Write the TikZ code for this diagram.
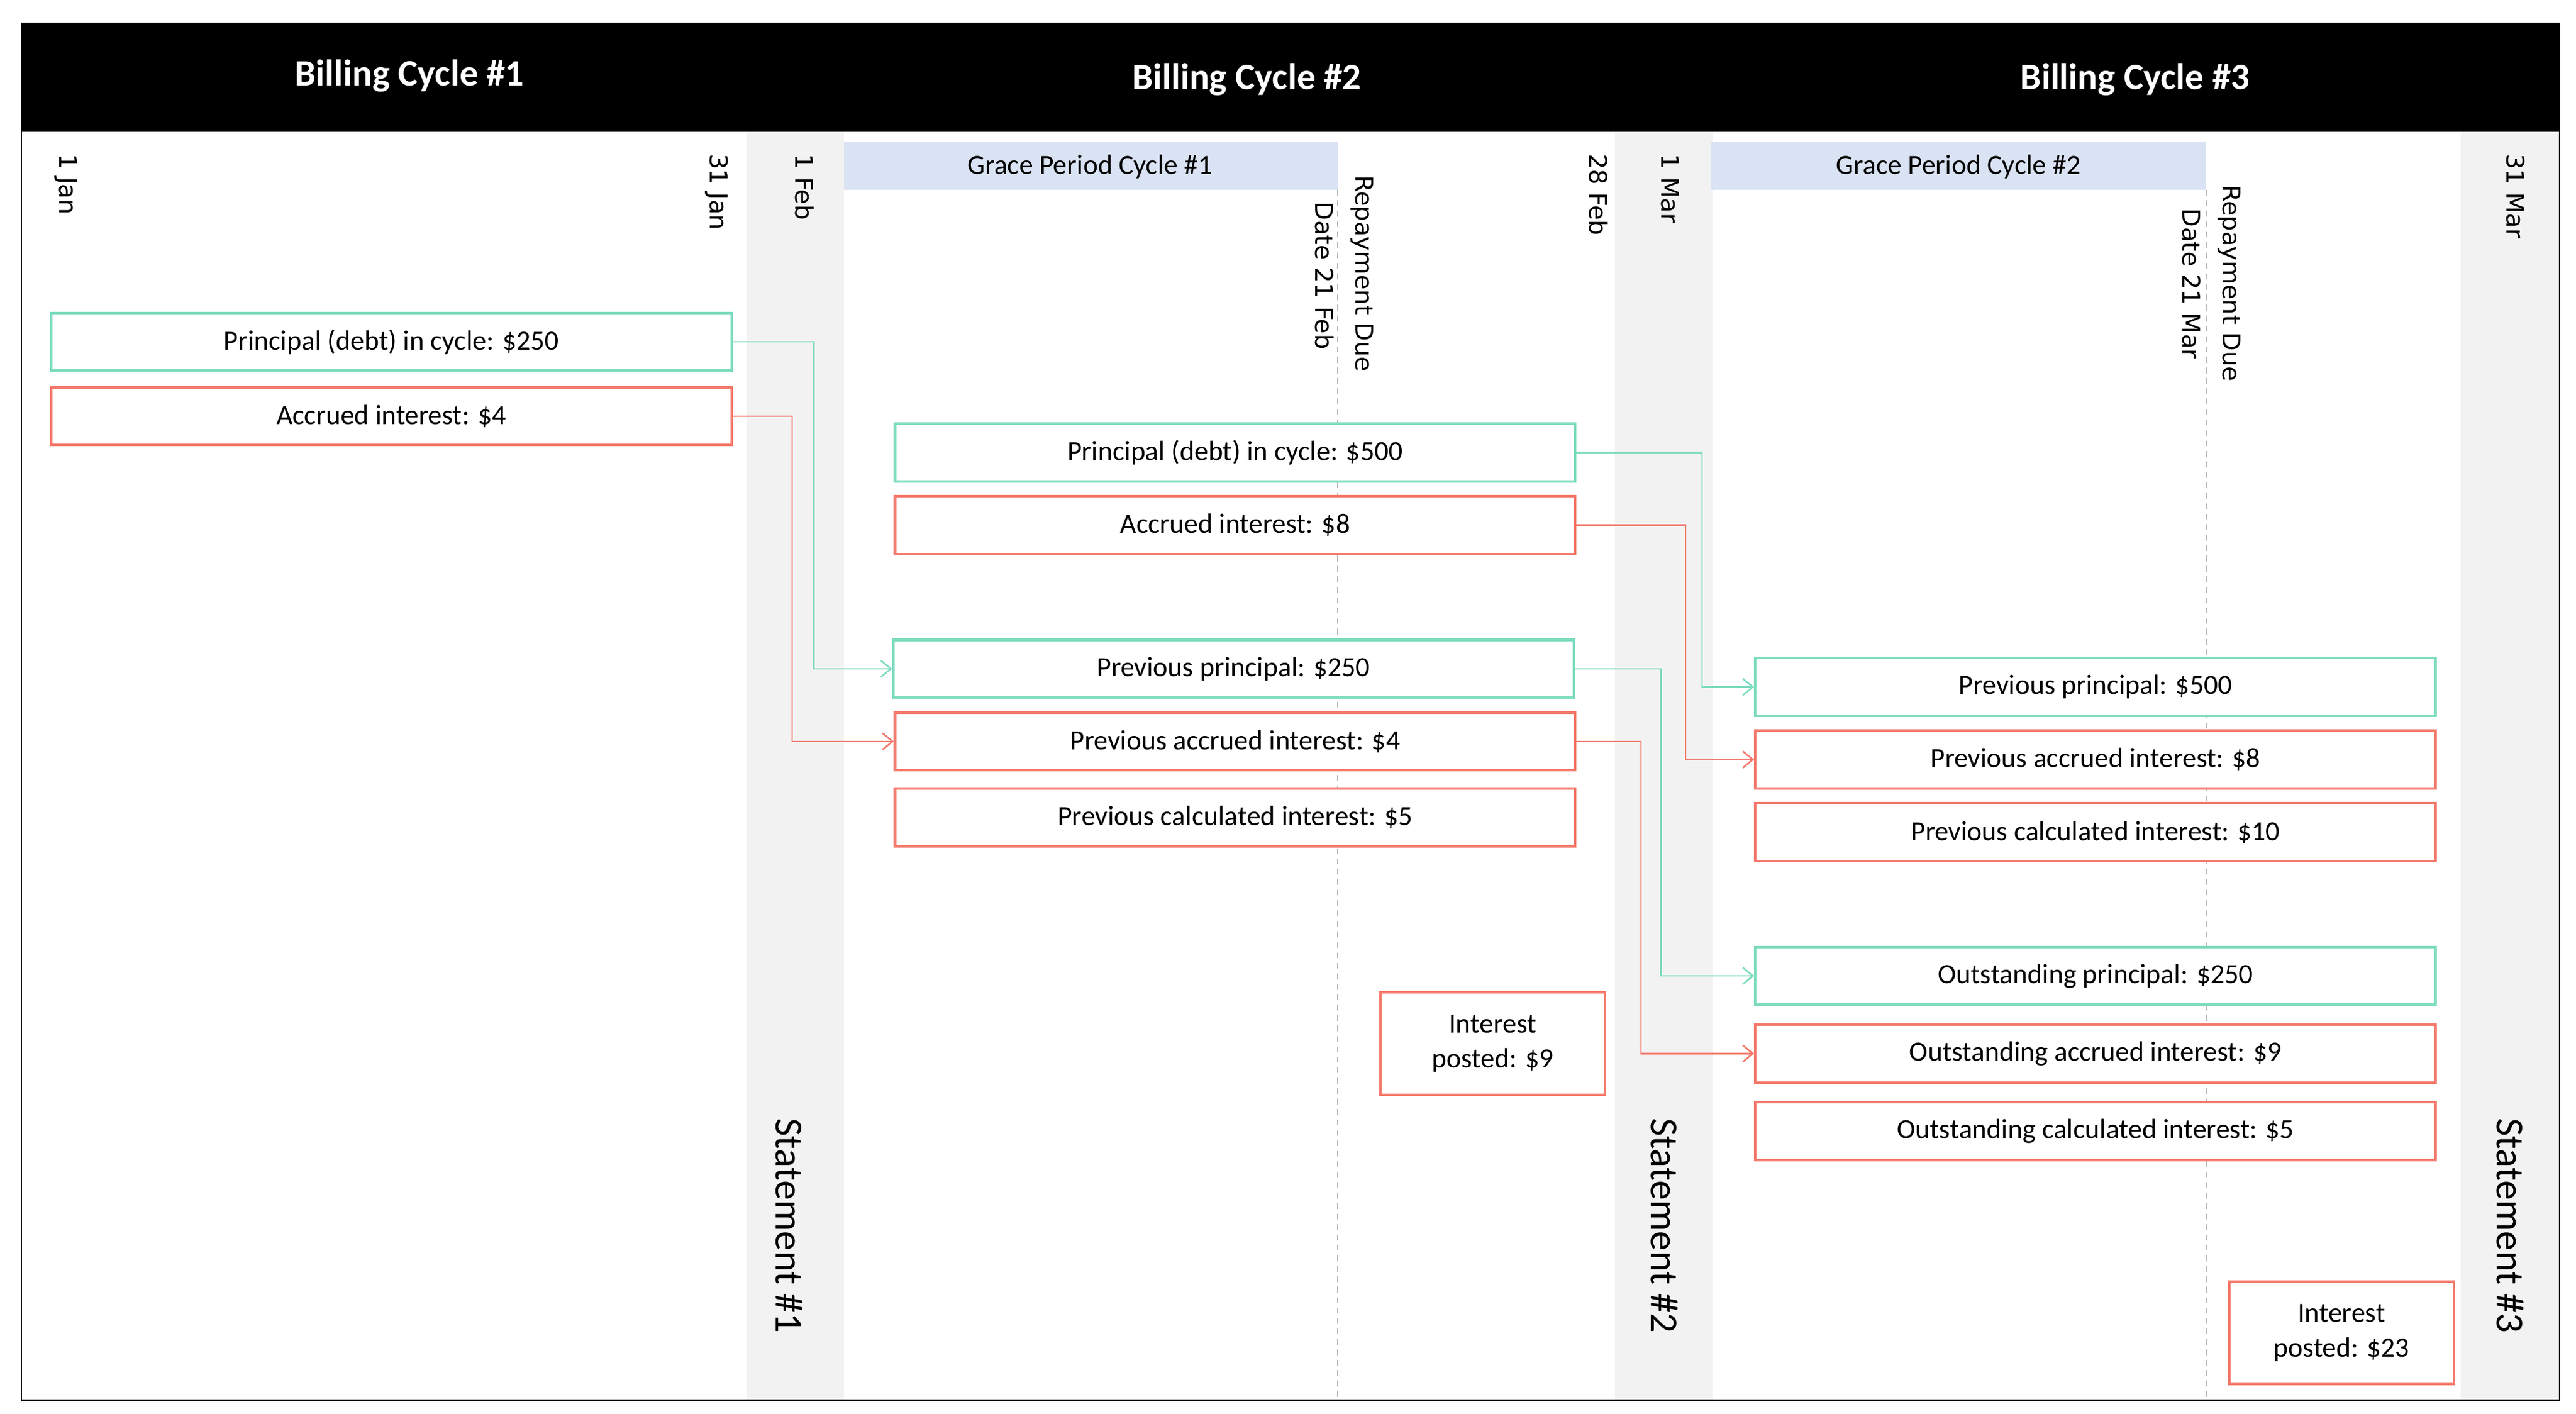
\documentclass[tikz,border=0pt]{standalone}
\usepackage{fontspec}
\setmainfont{Carlito}
\newfontfamily\datefont{DejaVu Sans}
\usetikzlibrary{arrows.meta}
\definecolor{tealline}{HTML}{7DDCBF}
\definecolor{redline}{HTML}{F4796B}
\definecolor{stripgray}{HTML}{F2F2F2}
\definecolor{gracefill}{HTML}{DAE3F3}
\begin{document}
\begin{tikzpicture}[
        x=0.05cm, y=-0.05cm,
        tbox/.style={rectangle, draw=tealline, line width=2.2pt, fill=white, minimum width=20.6cm,
                     minimum height=1.75cm, inner sep=0pt, font=\fontsize{24}{28}\selectfont},
        rbox/.style={tbox, draw=redline},
        postbox/.style={rbox, minimum width=6.8cm, minimum height=3.1cm, align=center,
                        font=\fontsize{24}{30}\selectfont},
        date/.style={rotate=-90, anchor=north west, inner sep=0pt, font=\datefont\fontsize{21}{25}\selectfont},
        stmt/.style={rotate=-90, anchor=west, inner sep=0pt, font=\fontsize{34}{40}\selectfont},
        cycle/.style={text=white, font=\bfseries\fontsize{32}{38}\selectfont},
        grace/.style={fill=gracefill, draw=none},
        tarrow/.style={draw=tealline, line width=1.4pt, -{Straight Barb[length=3mm, width=5mm]}},
        rarrow/.style={tarrow, draw=redline}
    ]
        \useasboundingbox (0,0) rectangle (1560,856);
        % strips and header
        \fill[stripgray] (452,80) rectangle (511,848);
        \fill[stripgray] (978,80) rectangle (1037,848);
        \fill[stripgray] (1490,80) rectangle (1550,848);
        \fill[black] (13,14) rectangle (1550,80);
        \draw[line width=1.2pt] (13,14) rectangle (1550,848);
        \node[cycle] (cyc1) at (248,46) {Billing Cycle \#1};
        \node[cycle] (cyc2) at (755,48) {Billing Cycle \#2};
        \node[cycle] (cyc3) at (1293,48) {Billing Cycle \#3};

        % grace periods and due dates
        \fill[grace] (511,86) rectangle (810,115);
        \node[font=\fontsize{24}{28}\selectfont] (grace1) at (660,101) {Grace Period Cycle \#1};
        \fill[grace] (1036,86) rectangle (1336,115);
        \node[font=\fontsize{24}{28}\selectfont] (grace2) at (1186,101) {Grace Period Cycle \#2};
        \draw[gray!60, line width=0.8pt, dash pattern=on 5pt off 4pt] (810,115) -- (810,848);
        \draw[gray!60, line width=0.8pt, dash pattern=on 5pt off 4pt] (1336,115) -- (1336,848);

        \node[date] (jan1) at (47,93) {1 Jan};
        \node[date] (jan31) at (441,93) {31 Jan};
        \node[date] (feb1) at (493,93) {1 Feb};
        \node[date] (feb28) at (974,93) {28 Feb};
        \node[date] (mar1) at (1017,93) {1 Mar};
        \node[date] (mar31) at (1529,93) {31 Mar};
        \node[date] (due1a) at (832,106) {Repayment Due};
        \node[date] (due1b) at (808,122) {Date 21 Feb};
        \node[date] (due2a) at (1357,112) {Repayment Due};
        \node[date] (due2b) at (1333,126) {Date 21 Mar};

        \node[stmt] (stmt1) at (478,677) {Statement \#1};
        \node[stmt] (stmt2) at (1008,677) {Statement \#2};
        \node[stmt] (stmt3) at (1520,677) {Statement \#3};

        % cycle 1
        \node[tbox] (prin1) at (237,207) {Principal (debt) in cycle: \$250};
        \node[rbox] (acc1) at (237,252) {Accrued interest: \$4};

        % cycle 2
        \node[tbox] (prin2) at (748,274) {Principal (debt) in cycle: \$500};
        \node[rbox] (acc2) at (748,318) {Accrued interest: \$8};
        \node[tbox] (prevprin2) at (747,405) {Previous principal: \$250};
        \node[rbox] (prevacc2) at (748,449) {Previous accrued interest: \$4};
        \node[rbox] (prevcalc2) at (748,495) {Previous calculated interest: \$5};
        \node[postbox] (post2) at (904,632) {Interest\\posted: \$9};

        % cycle 3
        \node[tbox] (prevprin3) at (1269,416) {Previous principal: \$500};
        \node[rbox] (prevacc3) at (1269,460) {Previous accrued interest: \$8};
        \node[rbox] (prevcalc3) at (1269,504) {Previous calculated interest: \$10};
        \node[tbox] (outprin3) at (1269,591) {Outstanding principal: \$250};
        \node[rbox] (outacc3) at (1269,638) {Outstanding accrued interest: \$9};
        \node[rbox] (outcalc3) at (1269,685) {Outstanding calculated interest: \$5};
        \node[postbox] (post3) at (1418,807) {Interest\\posted: \$23};

        % carry-over connectors
        \draw[tarrow] (prin1.east) -- ++(49,0) |- (prevprin2.west);
        \draw[rarrow] (acc1.east) -- ++(36,0) |- (prevacc2.west);
        \draw[tarrow] (prin2.east) -- ++(76,0) |- (prevprin3.west);
        \draw[rarrow] (acc2.east) -- ++(66,0) |- (prevacc3.west);
        \draw[tarrow] (prevprin2.east) -- ++(52,0) |- (outprin3.west);
        \draw[rarrow] (prevacc2.east) -- ++(39,0) |- (outacc3.west);
\end{tikzpicture}
\end{document}
